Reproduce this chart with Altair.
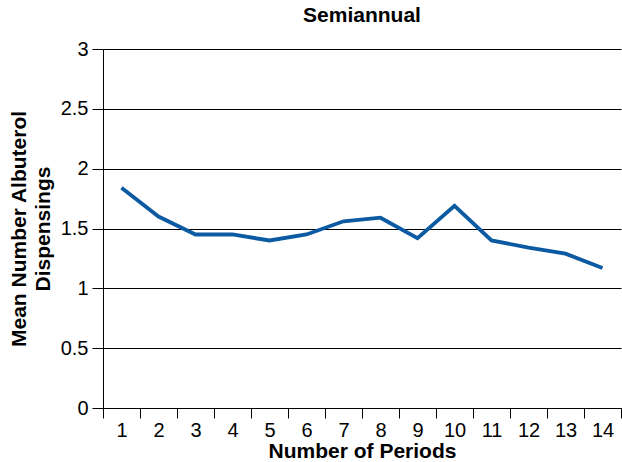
import altair as alt
import pandas as pd

periods = [str(i) for i in range(1, 15)]
values = [1.84, 1.60, 1.45, 1.45, 1.40, 1.45, 1.56, 1.59, 1.42, 1.69, 1.40, 1.34, 1.29, 1.17]
y_ticks = [0, 0.5, 1, 1.5, 2, 2.5, 3]

df = pd.DataFrame({"period": periods, "value": values})

FONT = "Liberation Sans"

chart = alt.Chart(df).mark_line(color="#0B5AA2", strokeWidth=3.8).encode(
    x=alt.X(
        "period:O",
        sort=periods,
        bandPosition=0.5,
        scale=alt.Scale(type="band", paddingInner=0, paddingOuter=0),
        axis=alt.Axis(
            title="Number of Periods",
            labelAngle=0,
            tickBand="extent",
            tickSize=10,
            tickColor="#000000",
            domainColor="#000000",
            labelPadding=2,
            titlePadding=0,
            grid=False,
        ),
    ),
    y=alt.Y(
        "value:Q",
        scale=alt.Scale(domain=[0, 3], nice=False),
        axis=alt.Axis(
            title=["Mean Number Albuterol", "Dispensings"],
            values=y_ticks,
            format="~g",
            tickSize=11,
            tickColor="#000000",
            domainColor="#000000",
            gridColor="#000000",
            gridOpacity=1,
            labelPadding=4,
            titlePadding=7,
            titleLineHeight=24,
        ),
    ),
).properties(
    width=518,
    height=359,
    title=alt.TitleParams("Semiannual", font=FONT, fontSize=21, fontWeight="bold", color="#000000", offset=13),
    autosize=alt.AutoSizeParams(type="none"),
    padding={"left": 103, "top": 49, "right": 1, "bottom": 54},
).configure_view(stroke=None).configure_axis(
    labelFont=FONT,
    titleFont=FONT,
    labelFontSize=20,
    titleFontSize=21,
    labelColor="#000000",
    titleColor="#000000",
    titleFontWeight="bold",
    domainWidth=1,
    tickWidth=1,
    gridWidth=1,
)

chart.save("out.html", embed_options={"renderer": "svg", "actions": False})
